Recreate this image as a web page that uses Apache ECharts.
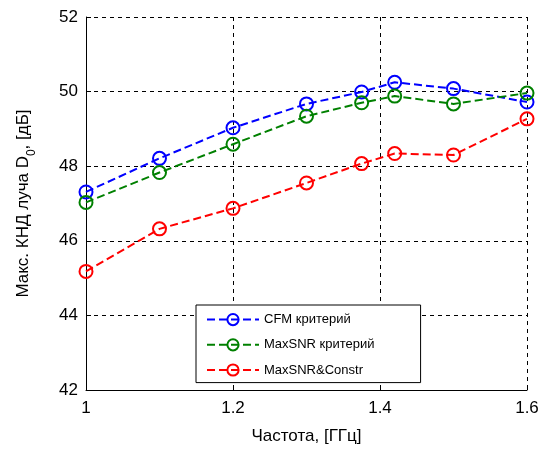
<!DOCTYPE html>
<html>
<head>
<meta charset="UTF-8">
<title>КНД</title>
<script src="https://cdn.jsdelivr.net/npm/echarts@6/dist/echarts.min.js"></script>
</head>
<body style="margin:0;background:#fff;">
<div id="main" style="width:544px;height:450px;"></div>
<script>
// частоты, ГГц
var freq = [1, 1.1, 1.2, 1.3, 1.375, 1.42, 1.5, 1.6];
var cfm = [47.31, 48.21, 49.03, 49.67, 49.99, 50.25, 50.08, 49.72];
var maxSnr = [47.03, 47.83, 48.59, 49.34, 49.70, 49.88, 49.67, 49.96];
var maxSnrConstr = [45.18, 46.32, 46.87, 47.55, 48.07, 48.34, 48.30, 49.27];
var names = ['CFM критерий', 'MaxSNR критерий', 'MaxSNR&Constr'];
var colors = ['#0000ff', '#008000', '#ff0000'];

var chart = echarts.init(document.getElementById('main'));
var font = 'Liberation Sans, Arial, sans-serif';

function mk(name, vals, c) {
  return {
    name: name,
    type: 'line',
    data: freq.map(function (f, i) { return [f, vals[i]]; }),
    symbol: 'circle',
    symbolSize: 13,
    showSymbol: true,
    lineStyle: { color: c, width: 2, type: [8, 4] },
    itemStyle: { color: 'rgba(0,0,0,0)', borderColor: c, borderWidth: 2 },
    emphasis: { disabled: true },
    animation: false
  };
}

var option = {
  backgroundColor: '#fff',
  textStyle: { fontFamily: font },
  grid: { left: 86, right: 17, top: 17, bottom: 58 },
  legend: {
    orient: 'vertical',
    left: 196,
    top: 305,
    padding: [8, 46, 6, 10],
    itemGap: 12,
    itemWidth: 52,
    itemHeight: 14,
    backgroundColor: '#fff',
    borderColor: '#000',
    borderWidth: 1,
    borderRadius: 0,
    textStyle: { fontSize: 13, color: '#000', fontFamily: font },
    data: names
  },
  xAxis: {
    type: 'value',
    min: 1, max: 1.6, interval: 0.2,
    name: 'Частота, [ГГц]',
    nameLocation: 'middle',
    nameGap: 38,
    nameTextStyle: { fontSize: 17, color: '#000', fontFamily: font },
    axisLine: { lineStyle: { color: '#000', width: 1 } },
    axisTick: { inside: true, length: 5, lineStyle: { color: '#000' } },
    axisLabel: { fontSize: 17, color: '#000', margin: 10 },
    splitLine: { show: true, lineStyle: { color: '#000', type: [4, 4], width: 1 } }
  },
  yAxis: {
    type: 'value',
    min: 42, max: 52, interval: 2,
    name: '{a|Макс. КНД луча D}{s|0}{a|, [дБ]}',
    nameLocation: 'middle',
    nameGap: 54,
    nameTextStyle: {
      color: '#000',
      rich: {
        a: { fontSize: 17, color: '#000', fontFamily: font, lineHeight: 22, verticalAlign: 'bottom' },
        s: { fontSize: 12, color: '#000', fontFamily: font, lineHeight: 22, verticalAlign: 'bottom', padding: [0, 0, -6, 0] }
      }
    },
    axisLine: { show: true, lineStyle: { color: '#000', width: 1 } },
    axisTick: { show: true, inside: true, length: 5, lineStyle: { color: '#000' } },
    axisLabel: { fontSize: 17, color: '#000', margin: 8 },
    splitLine: { show: true, lineStyle: { color: '#000', type: [4, 4], width: 1 } }
  },
  series: [
    mk(names[0], cfm, colors[0]),
    mk(names[1], maxSnr, colors[1]),
    mk(names[2], maxSnrConstr, colors[2])
  ]
};
chart.setOption(option);
</script>
</body>
</html>
